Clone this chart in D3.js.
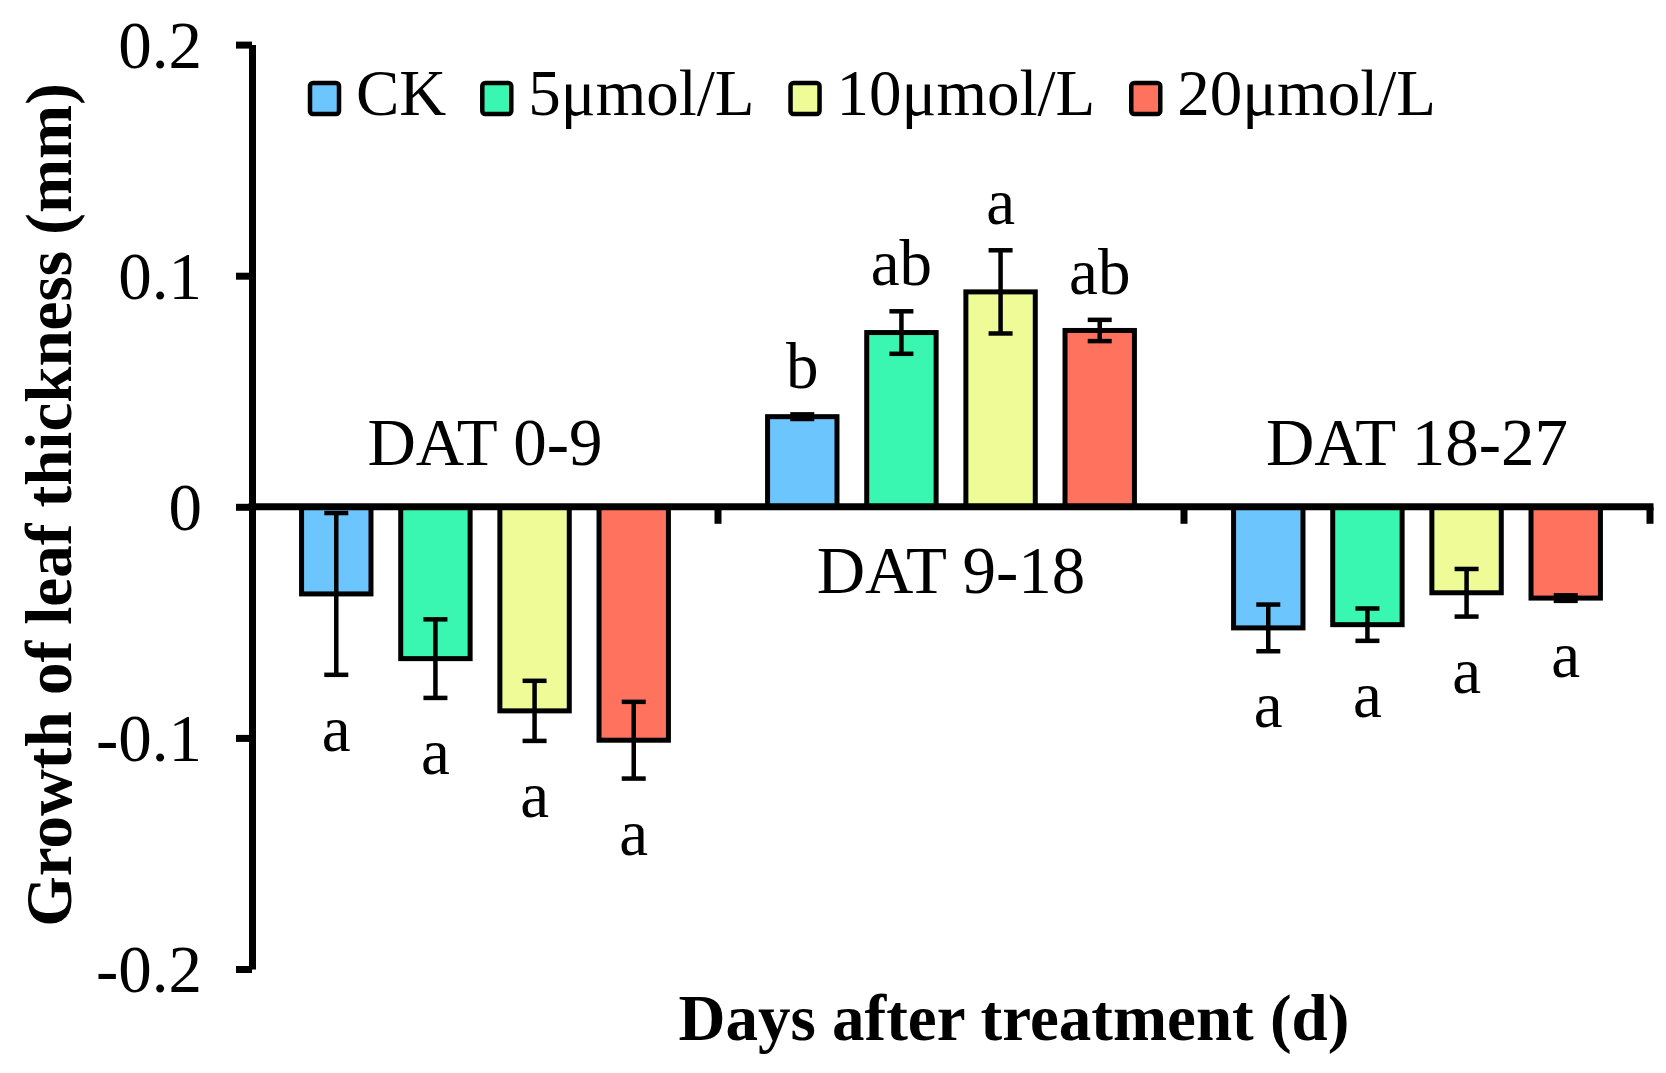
<!DOCTYPE html>
<html>
<head>
<meta charset="utf-8">
<script src="https://cdn.jsdelivr.net/npm/d3@7"></script>
<style>
  body { margin: 0; background: #fff; }
  svg text { font-family: "Liberation Serif", "Times New Roman", serif; fill: #000; }
</style>
</head>
<body>
<svg id="chart" width="1666" height="1073"></svg>
<script>
// data
const periods = ["DAT 0-9", "DAT 9-18", "DAT 18-27"];
const treatments = ["CK", "5μmol/L", "10μmol/L", "20μmol/L"];
const colors = ["#6DC5FD", "#39F7B0", "#EEFB96", "#FF735E"];

const ckMean = [-0.0377, 0.039, -0.0524];
const ckErr = [0.035, 0.001, 0.0101];
const t5Mean = [-0.0657, 0.0754, -0.051];
const t5Err = [0.017, 0.0092, 0.007];
const t10Mean = [-0.0883, 0.093, -0.0372];
const t10Err = [0.013, 0.018, 0.0103];
const t20Mean = [-0.101, 0.0763, -0.0395];
const t20Err = [0.0166, 0.0046, 0.0012];

const ckSig = ["a", "b", "a"];
const t5Sig = ["a", "ab", "a"];
const t10Sig = ["a", "a", "a"];
const t20Sig = ["a", "ab", "a"];

const yTicks = [-0.2, -0.1, 0, 0.1, 0.2];
const yTickLabels = ["-0.2", "-0.1", "0", "0.1", "0.2"];

const means = [ckMean, t5Mean, t10Mean, t20Mean];
const errs = [ckErr, t5Err, t10Err, t20Err];
const sigs = [ckSig, t5Sig, t10Sig, t20Sig];

const rows = [];
periods.forEach((p, i) => {
    treatments.forEach((t, j) => {
        rows.push({ period: p, treatment: t, idx: j, mean: means[j][i], err: errs[j][i], sig: sigs[j][i] });
    });
});

const svg = d3.select("#chart");
const plotLeft = 252, plotRight = 1650, plotTop = 44.6, plotBottom = 969;

const x0 = d3.scaleBand().domain(periods).range([plotLeft, plotRight]).padding(0);
const x1 = d3.scaleBand().domain(treatments).range([0, x0.bandwidth()])
    .paddingInner(0.3).paddingOuter(0.5);
const y = d3.scaleLinear().domain([-0.2, 0.2]).range([plotBottom, plotTop]);

// bars
svg.append("g").selectAll("rect")
    .data(rows)
    .enter().append("rect")
        .attr("x", d => x0(d.period) + x1(d.treatment))
        .attr("y", d => y(Math.max(0, d.mean)))
        .attr("width", x1.bandwidth())
        .attr("height", d => Math.abs(y(d.mean) - y(0)))
        .attr("fill", d => colors[d.idx])
        .attr("stroke", "#000")
        .attr("stroke-width", 5);

// error bars
const cap = 12;
const eb = svg.append("g").attr("stroke", "#000").attr("stroke-width", 4.5);
rows.forEach(d => {
    const cx = x0(d.period) + x1(d.treatment) + x1.bandwidth() / 2;
    const y1 = y(d.mean - d.err), y2 = y(d.mean + d.err);
    eb.append("line").attr("x1", cx).attr("x2", cx).attr("y1", y1).attr("y2", y2);
    eb.append("line").attr("x1", cx - cap).attr("x2", cx + cap).attr("y1", y1).attr("y2", y1);
    eb.append("line").attr("x1", cx - cap).attr("x2", cx + cap).attr("y1", y2).attr("y2", y2);
});

// significance letters
svg.append("g").selectAll("text")
    .data(rows)
    .enter().append("text")
        .attr("x", d => x0(d.period) + x1(d.treatment) + x1.bandwidth() / 2)
        .attr("y", d => d.mean >= 0 ? y(d.mean + d.err) - 26 : y(d.mean - d.err) + 76)
        .attr("text-anchor", "middle")
        .style("font-size", "65px")
        .text(d => d.sig);

// y axis
const yAxis = d3.axisLeft(y).tickValues(yTicks).tickSize(16).tickSizeOuter(0)
    .tickFormat((d, i) => yTickLabels[i]);
const gy = svg.append("g").attr("transform", `translate(${plotLeft},0)`).call(yAxis);
gy.select(".domain").attr("stroke-width", 7);
gy.selectAll(".tick line").attr("stroke-width", 7);
gy.selectAll(".tick text")
    .attr("x", -50)
    .attr("dy", "0.34em")
    .style("font-size", "67px")
    .style("font-family", "'Liberation Serif', 'Times New Roman', serif");

// x axis at zero
const xLine = svg.append("g").attr("stroke", "#000").attr("stroke-width", 7);
xLine.append("line").attr("x1", plotLeft - 3.5).attr("x2", plotRight + 3.5).attr("y1", y(0)).attr("y2", y(0));
periods.forEach(p => {
    const tx = x0(p) + x0.bandwidth();
    xLine.append("line").attr("x1", tx).attr("x2", tx).attr("y1", y(0)).attr("y2", y(0) + 17);
});

// period labels
svg.append("g").selectAll("text")
    .data(periods)
    .enter().append("text")
        .attr("x", p => x0(p) + x0.bandwidth() / 2)
        .attr("y", (p, i) => ckMean[i] >= 0 ? y(0) + 86 : y(0) - 42)
        .attr("text-anchor", "middle")
        .style("font-size", "67px")
        .text(p => p);

// legend
let lx = 310;
const legend = svg.append("g");
treatments.forEach((t, i) => {
    legend.append("rect")
        .attr("x", lx).attr("y", 83).attr("width", 29).attr("height", 31)
        .attr("rx", 3)
        .attr("fill", colors[i]).attr("stroke", "#000").attr("stroke-width", 4.5);
    const txt = legend.append("text")
        .attr("x", lx + 46).attr("y", 115)
        .style("font-size", "65px")
        .text(t);
    lx += 46 + txt.node().getComputedTextLength() + 36;
});

// axis titles
svg.append("text")
    .attr("x", 1014).attr("y", 1040)
    .attr("text-anchor", "middle")
    .style("font-size", "65px").style("font-weight", "bold")
    .text("Days after treatment (d)");

svg.append("text")
    .attr("transform", "translate(71,505) rotate(-90)")
    .attr("text-anchor", "middle")
    .style("font-size", "65px").style("font-weight", "bold")
    .text("Growth of leaf thickness (mm)");
</script>
</body>
</html>
